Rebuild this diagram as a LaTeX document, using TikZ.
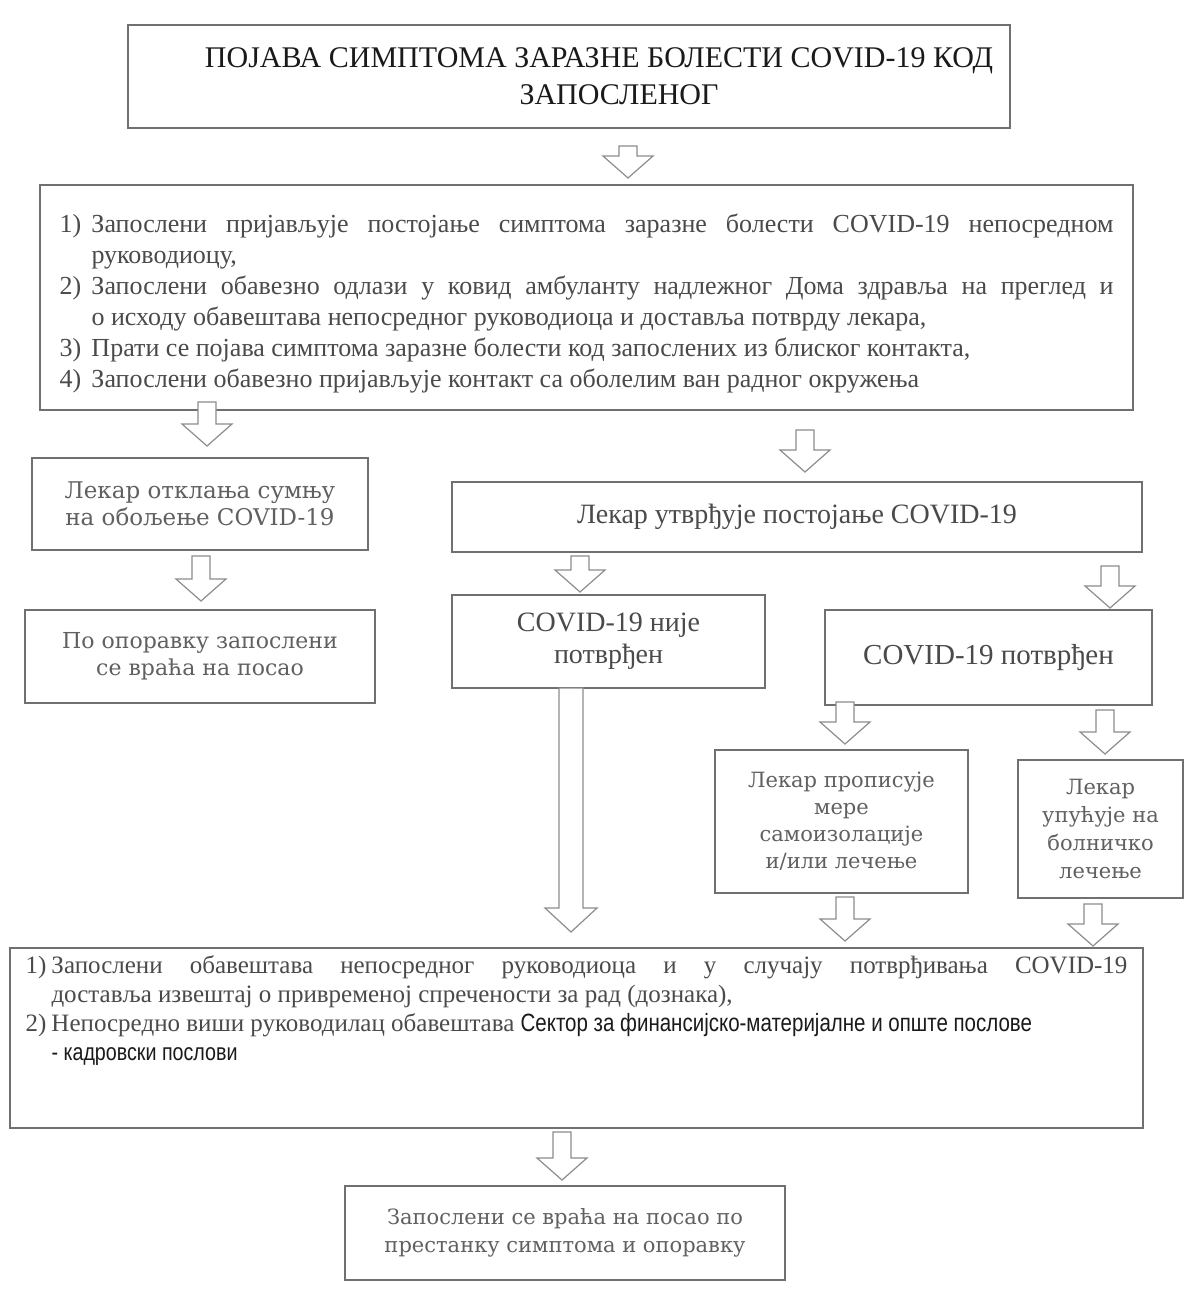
\documentclass[tikz,border=0pt]{standalone}
\usepackage{fontspec}
\setmainfont{Liberation Serif}
\newfontfamily\wideserif{DejaVu Serif}
\newfontfamily\narrowsans[FakeStretch=0.82]{Liberation Sans}
\definecolor{ink}{HTML}{4A4A4A}
\definecolor{lightink}{HTML}{606060}
\definecolor{darkink}{HTML}{1A1A1A}
\definecolor{edge}{HTML}{707070}
\newcommand\itm[3]{\par\noindent\hangindent=#1\hangafter=1\makebox[#1][l]{#2}#3}
\newcommand\barrow[3]{\draw[blockarrow] (#1-9,#2) -- (#1+9,#2) -- (#1+9,#3-22) -- (#1+25,#3-22) -- (#1,#3) -- (#1-25,#3-22) -- (#1-9,#3-22) -- cycle;}
\tikzset{
  box/.style={draw=edge, line width=0.7pt, fill=white, inner sep=0pt, text=ink, align=center},
  blockarrow/.style={draw=edge!80, line width=0.6pt, fill=white, line join=miter},
}
\begin{document}
\begin{tikzpicture}[x=0.5pt,y=-0.5pt]
\useasboundingbox (0,0) rectangle (1185,1293);
\fill[white] (0,0) rectangle (1185,1293);

% boxes
\node[box, minimum width=441pt, minimum height=51.5pt, text=darkink,
      font=\fontsize{15}{18.5}\selectfont] (b1) at (569,76.5)
  {\hspace*{30pt}ПОЈАВА СИМПТОМА ЗАРАЗНЕ БОЛЕСТИ COVID-19 КОД\\\hspace*{50pt}ЗАПОСЛЕНОГ};

\node[box, minimum width=546.5pt, minimum height=112.5pt, align=justify, text width=527pt,
      font=\fontsize{13}{15.5}\selectfont] (b2) at (586.5,297.5)
  {\itm{16pt}{1)}{Запослени пријављује постојање симптома заразне болести COVID-19 непосредном\linebreak руководиоцу,}
   \itm{16pt}{2)}{Запослени обавезно одлази у ковид амбуланту надлежног Дома здравља на преглед и\linebreak о исходу обавештава непосредног руководиоца и доставља потврду лекара,}
   \itm{16pt}{3)}{Прати се појава симптома заразне болести код запослених из блиског контакта,}
   \itm{16pt}{4)}{Запослени обавезно пријављује контакт са оболелим ван радног окружења}\par};

\node[box, minimum width=168pt, minimum height=46pt, text=lightink,
      font=\wideserif\fontsize{11.5}{13.5}\selectfont] (b3) at (200,504)
  {Лекар отклања сумњу\\на обољење COVID-19};

\node[box, minimum width=175pt, minimum height=46.5pt, text=lightink,
      font=\wideserif\fontsize{11}{13.5}\selectfont] (b4) at (200,656.5)
  {По опоравку запослени\\се враћа на посао};

\node[box, minimum width=345pt, minimum height=35pt,
      font=\fontsize{14}{16}\selectfont] (b5) at (797,517)
  {Лекар утврђује постојање COVID-19};

\node[box, minimum width=156.5pt, minimum height=46.5pt,
      font=\fontsize{14}{16}\selectfont] (b6) at (608.5,641.5)
  {COVID-19 није\\потврђен};

\node[box, minimum width=163.5pt, minimum height=47.5pt,
      font=\fontsize{14.5}{16}\selectfont] (b7) at (988.5,657.5)
  {COVID-19 потврђен};

\node[box, minimum width=126.5pt, minimum height=71.5pt, text=lightink,
      font=\wideserif\fontsize{10.5}{13.5}\selectfont] (b8) at (841.5,821.5)
  {Лекар прописује\\мере\\самоизолације\\и/или лечење};

\node[box, minimum width=82.5pt, minimum height=69pt, text=lightink,
      font=\wideserif\fontsize{10.5}{14}\selectfont] (b9) at (1100.5,829)
  {Лекар\\упућује на\\болничко\\лечење};

\node[box, minimum width=566.5pt, minimum height=90pt, align=left,
      font=\fontsize{12.5}{14.5}\selectfont] (b10) at (576.5,1038)
  {\begin{minipage}[c][82pt][t]{551pt}
   \itm{13pt}{1)}{Запослени обавештава непосредног руководиоца и у случају потврђивања COVID-19\linebreak доставља извештај о привременој спречености за рад (дознака),}
   \itm{13pt}{2)}{Непосредно виши руководилац обавештава {\color{darkink}\narrowsans\fontsize{12.5}{14.5}\selectfont Сектор за финансијско-материјалне и опште послове}\newline
   {\color{darkink}\narrowsans\fontsize{12}{14.5}\selectfont - кадровски послови}}\par
   \end{minipage}};

\node[box, minimum width=220pt, minimum height=47pt, text=lightink,
      font=\wideserif\fontsize{10.5}{14}\selectfont] (b11) at (565,1233)
  {Запослени се враћа на посао по\\престанку симптома и опоравку};

% block arrows
\barrow{628}{146}{178}
\barrow{207}{402}{446}
\barrow{805}{430}{472}
\barrow{201}{556}{601}
\barrow{580}{556}{592}
\barrow{1110}{566}{608}
\draw[blockarrow] (571-12,688) -- (571+12,688) -- (571+12,908) -- (571+26,908) -- (571,932) -- (571-26,908) -- (571-12,908) -- cycle;
\barrow{845}{702}{744}
\barrow{1105}{710}{754}
\barrow{845}{897}{941}
\barrow{1093}{904}{946}
\barrow{562}{1132}{1180}
\end{tikzpicture}
\end{document}
